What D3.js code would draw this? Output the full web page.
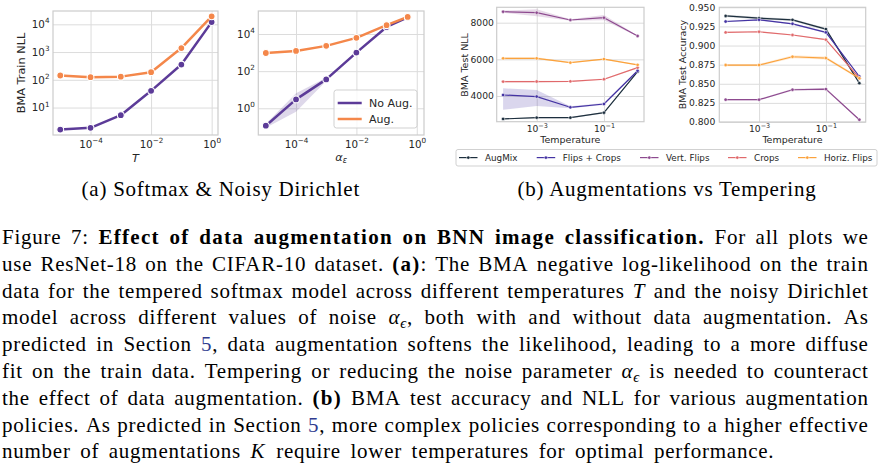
<!DOCTYPE html>
<html>
<head>
<meta charset="utf-8">
<script src="https://cdn.jsdelivr.net/npm/d3@7"></script>
<style>
  body { margin: 0; background: #fff; }
  svg { display: block; font-family: "DejaVu Sans", sans-serif; }
</style>
</head>
<body>
<svg id="fig" width="882" height="465"></svg>
<script>
// ---------- data ----------
// (a) left: tempered softmax, BMA train NLL vs T
const softmaxT = [1e-5, 1e-4, 1e-3, 1e-2, 1e-1, 1];
const softmaxNoAug = [1.6, 1.85, 5.3, 40, 355, 12000];
const softmaxAug = [143, 124, 130, 188, 1390, 19500];

// (a) right: noisy Dirichlet, BMA train NLL vs alpha_eps
const dirichletAlpha = [1e-5, 1e-4, 1e-3, 1e-2, 1e-1, 0.5];
const dirichletNoAug = [0.115, 3.0, 36, 1000, 24000, 80000];
const dirichletNoAugLo = [0.09, 0.65, 29, 900, 22000, 76000];
const dirichletNoAugHi = [0.145, 6.5, 44, 1110, 26000, 84000];
const dirichletAug = [950, 1230, 2300, 6200, 30000, 83000];

const trainLegend = ["No Aug.", "Aug."];

// (b) augmentations vs tempering
const temperature = [1e-4, 1e-3, 1e-2, 1e-1, 1];
const augNames = ["AugMix", "Flips + Crops", "Vert. Flips", "Crops", "Horiz. Flips"];

const nllAugMix     = [2750, 2820, 2820, 3090, 5330];
const nllAugMixLo   = [2720, 2780, 2790, 3050, 5290];
const nllAugMixHi   = [2780, 2860, 2850, 3130, 5370];
const nllFlipsCrops   = [4055, 3970, 3384, 3565, 5380];
const nllFlipsCropsLo = [3250, 3455, 3330, 3510, 5340];
const nllFlipsCropsHi = [4420, 4330, 3440, 3620, 5420];
const nllVert   = [8600, 8545, 8147, 8272, 7275];
const nllVertLo = [8540, 8350, 8100, 8130, 7245];
const nllVertHi = [8660, 8740, 8190, 8420, 7305];
const nllCrops   = [4785, 4790, 4800, 4915, 5550];
const nllCropsLo = [4740, 4750, 4770, 4880, 5520];
const nllCropsHi = [4830, 4830, 4830, 4950, 5580];
const nllHoriz   = [6055, 6055, 5820, 6015, 5700];
const nllHorizLo = [5990, 6000, 5790, 5985, 5670];
const nllHorizHi = [6120, 6110, 5850, 6045, 5730];

const accAugMix     = [0.9387, 0.9358, 0.9336, 0.9215, 0.8508];
const accAugMixLo   = [0.9372, 0.9343, 0.9321, 0.9200, 0.8493];
const accAugMixHi   = [0.9402, 0.9373, 0.9351, 0.9230, 0.8523];
const accFlipsCrops   = [0.9314, 0.9336, 0.9284, 0.9172, 0.8595];
const accFlipsCropsLo = [0.9304, 0.9326, 0.9274, 0.9162, 0.8585];
const accFlipsCropsHi = [0.9324, 0.9346, 0.9294, 0.9182, 0.8605];
const accVert   = [0.8292, 0.8292, 0.8422, 0.8430, 0.8030];
const accVertLo = [0.8282, 0.8282, 0.8410, 0.8416, 0.8020];
const accVertHi = [0.8302, 0.8302, 0.8434, 0.8444, 0.8040];
const accCrops   = [0.9172, 0.9180, 0.9138, 0.9077, 0.8573];
const accCropsLo = [0.9164, 0.9172, 0.9130, 0.9069, 0.8565];
const accCropsHi = [0.9180, 0.9188, 0.9146, 0.9085, 0.8581];
const accHoriz   = [0.8745, 0.8745, 0.8853, 0.8836, 0.8573];
const accHorizLo = [0.8730, 0.8730, 0.8833, 0.8816, 0.8558];
const accHorizHi = [0.8760, 0.8760, 0.8873, 0.8856, 0.8588];

const captionA = "(a) Softmax & Noisy Dirichlet";
const captionB = "(b) Augmentations vs Tempering";
// ** bold, * italic, ^ link colour, ~ subscript
const bodyLines = [
  "Figure 7: **Effect of data augmentation on BNN image classification.** For all plots we",
  "use ResNet-18 on the CIFAR-10 dataset. **(a)**: The BMA negative log-likelihood on the train",
  "data for the tempered softmax model across different temperatures *T* and the noisy Dirichlet",
  "model across different values of noise *α*~ϵ~, both with and without data augmentation. As",
  "predicted in Section ^5^, data augmentation softens the likelihood, leading to a more diffuse",
  "fit on the train data. Tempering or reducing the noise parameter *α*~ϵ~ is needed to counteract",
  "the effect of data augmentation. **(b)** BMA test accuracy and NLL for various augmentation",
  "policies. As predicted in Section ^5^, more complex policies corresponding to a higher effective",
  "number of augmentations *K* require lower temperatures for optimal performance."
];

// ---------- style ----------
const ink = "#262626";
const gridColor = "#dcdcdc";
const frameColor = "#cccccc";
const trainColors = ["#5c3b98", "#f4874a"];
const augColors = ["#1d2f3e", "#4433a3", "#8d4a8f", "#e0696b", "#fba23c"];

const svg = d3.select("#fig");

function powLabel(t, d, size) {
  const e = Math.round(Math.log10(d));
  t.text(null);
  t.append("tspan").text("10");
  t.append("tspan").attr("dy", -0.45 * size).attr("font-size", size * 0.7)
    .text(e < 0 ? "\u2212" + (-e) : String(e));
}

function drawPanel(p) {
  const g = svg.append("g");
  const x = d3.scaleLog().domain(p.xDomain).range([p.left, p.right]);
  const y = (p.yLog ? d3.scaleLog() : d3.scaleLinear()).domain(p.yDomain).range([p.bottom, p.top]);
  const h = p.bottom - p.top, w = p.right - p.left;

  const ax = g.append("g").attr("transform", `translate(0,${p.bottom})`)
    .call(d3.axisBottom(x).tickValues(p.xTicks).tickSize(-h).tickPadding(p.xPad));
  const ay = g.append("g").attr("transform", `translate(${p.left},0)`)
    .call(d3.axisLeft(y).tickValues(p.yTicks).tickSize(-w).tickPadding(p.yPad)
      .tickFormat(p.yFormat || (d => d)));
  [ax, ay].forEach(a => {
    a.select(".domain").remove();
    a.attr("font-family", "DejaVu Sans").attr("font-size", p.tickSize);
    a.selectAll(".tick line").attr("stroke", gridColor).attr("stroke-width", 1);
    a.selectAll(".tick text").attr("fill", ink);
  });
  ax.selectAll(".tick text").each(function (d) { powLabel(d3.select(this), d, p.tickSize); });
  if (p.yLog) ay.selectAll(".tick text").each(function (d) { powLabel(d3.select(this), d, p.tickSize); });

  g.append("rect").attr("x", p.left).attr("y", p.top).attr("width", w).attr("height", h)
    .attr("fill", "none").attr("stroke", frameColor).attr("stroke-width", 1.2);

  const clipId = "clip" + Math.round(p.left);
  g.append("clipPath").attr("id", clipId).append("rect")
    .attr("x", p.left).attr("y", p.top).attr("width", w).attr("height", h);
  const plot = g.append("g").attr("clip-path", `url(#${clipId})`);

  p.series.forEach(s => {
    const pts = s.xs.map((xv, i) => ({ x: xv, y: s.ys[i], lo: s.lo ? s.lo[i] : null, hi: s.hi ? s.hi[i] : null }));
    if (s.lo) {
      plot.append("path").datum(pts)
        .attr("d", d3.area().x(d => x(d.x)).y0(d => y(d.lo)).y1(d => y(d.hi)))
        .attr("fill", s.color).attr("opacity", 0.2);
    }
    plot.append("path").datum(pts)
      .attr("d", d3.line().x(d => x(d.x)).y(d => y(d.y)))
      .attr("fill", "none").attr("stroke", s.color).attr("stroke-width", p.lw)
      .attr("stroke-linejoin", "round");
    plot.selectAll(null).data(pts).join("circle")
      .attr("cx", d => x(d.x)).attr("cy", d => y(d.y)).attr("r", p.r)
      .attr("fill", s.color).attr("stroke", "#fff").attr("stroke-width", p.r * 0.3);
  });

  // labels
  const xl = g.append("text").attr("x", (p.left + p.right) / 2).attr("y", p.xLabelY)
    .attr("text-anchor", "middle").attr("fill", ink).attr("font-size", p.labelSize);
  p.xLabel(xl);
  g.append("text").attr("transform", `translate(${p.yLabelX},${p.yLabelY}) rotate(-90)`)
    .attr("text-anchor", "middle").attr("dominant-baseline", "central")
    .attr("fill", ink).attr("font-size", p.labelSize).text(p.yLabel);
  return { x, y, g };
}

const trainSeries = (xs, a, b, lo, hi) => [
  { xs, ys: a, color: trainColors[0], lo, hi },
  { xs, ys: b, color: trainColors[1] }
];

drawPanel({
  left: 53, right: 218, top: 11, bottom: 135,
  xDomain: [Math.pow(10, -5.24), Math.pow(10, 0.21)], yLog: true,
  yDomain: [Math.pow(10, 0.01), Math.pow(10, 4.48)],
  xTicks: [1e-4, 1e-2, 1], yTicks: [10, 100, 1000, 10000],
  xPad: 5.5, yPad: 3.5, tickSize: 10.3, labelSize: 11.3, lw: 2.5, r: 3.4,
  xLabelY: 161.5, xLabel: t => t.attr("font-style", "italic").text("T"),
  yLabel: "BMA Train NLL", yLabelX: 21.7, yLabelY: 73,
  series: trainSeries(softmaxT, softmaxNoAug, softmaxAug)
});

drawPanel({
  left: 258.3, right: 424, top: 11, bottom: 135,
  xDomain: [Math.pow(10, -5.25), Math.pow(10, 0.24)], yLog: true,
  yDomain: [Math.pow(10, -1.44), Math.pow(10, 5.24)],
  xTicks: [1e-4, 1e-2, 1], yTicks: [1, 100, 10000],
  xPad: 5.5, yPad: 3.5, tickSize: 10.3, labelSize: 11.3, lw: 2.5, r: 3.4,
  xLabelY: 160.5,
  xLabel: t => {
    t.append("tspan").attr("font-style", "italic").text("α");
    t.append("tspan").attr("font-style", "italic").attr("font-size", 8).attr("dy", 2.5).text("ε");
  },
  yLabel: "", yLabelX: 230, yLabelY: 73,
  series: trainSeries(dirichletAlpha, dirichletNoAug, dirichletAug, dirichletNoAugLo, dirichletNoAugHi)
});

// legend for (a)
const lgA = svg.append("g");
lgA.append("rect").attr("x", 334).attr("y", 90).attr("width", 83).attr("height", 38).attr("rx", 2.5)
  .attr("fill", "#fff").attr("fill-opacity", 0.8).attr("stroke", frameColor).attr("stroke-width", 0.9);
trainLegend.forEach((name, i) => {
  const yy = 103 + i * 16;
  lgA.append("line").attr("x1", 337.7).attr("x2", 361.7).attr("y1", yy).attr("y2", yy)
    .attr("stroke", trainColors[i]).attr("stroke-width", 2.5);
  lgA.append("text").attr("x", 369).attr("y", yy).attr("dominant-baseline", "central")
    .attr("font-size", 11).attr("fill", ink).text(name);
});

const nllSeries = [
  [nllAugMix, nllAugMixLo, nllAugMixHi],
  [nllFlipsCrops, nllFlipsCropsLo, nllFlipsCropsHi],
  [nllVert, nllVertLo, nllVertHi],
  [nllCrops, nllCropsLo, nllCropsHi],
  [nllHoriz, nllHorizLo, nllHorizHi]
].map((v, i) => ({ xs: temperature, ys: v[0], lo: v[1], hi: v[2], color: augColors[i] }));

const accSeries = [
  [accAugMix, accAugMixLo, accAugMixHi],
  [accFlipsCrops, accFlipsCropsLo, accFlipsCropsHi],
  [accVert, accVertLo, accVertHi],
  [accCrops, accCropsLo, accCropsHi],
  [accHoriz, accHorizLo, accHorizHi]
].map((v, i) => ({ xs: temperature, ys: v[0], lo: v[1], hi: v[2], color: augColors[i] }));

const tempLabel = t => t.text("Temperature");

drawPanel({
  left: 496.7, right: 644, top: 7.3, bottom: 121.7,
  xDomain: [Math.pow(10, -4.19), Math.pow(10, 0.19)], yLog: false,
  yDomain: [2598, 8840],
  xTicks: [1e-3, 1e-1], yTicks: [4000, 6000, 8000],
  xPad: 3.8, yPad: 2.8, tickSize: 9.2, labelSize: 9.5, lw: 1.2, r: 1.7,
  xLabelY: 142.6, xLabel: tempLabel,
  yLabel: "BMA Test NLL", yLabelX: 464.3, yLabelY: 65,
  series: nllSeries
});

drawPanel({
  left: 719.3, right: 865.7, top: 7.3, bottom: 122,
  xDomain: [Math.pow(10, -4.19), Math.pow(10, 0.19)], yLog: false,
  yDomain: [0.8, 0.95], yFormat: d3.format(".3f"),
  xTicks: [1e-3, 1e-1], yTicks: [0.8, 0.825, 0.85, 0.875, 0.9, 0.925, 0.95],
  xPad: 3.5, yPad: 4, tickSize: 9.2, labelSize: 9.5, lw: 1.2, r: 1.7,
  xLabelY: 142.6, xLabel: tempLabel,
  yLabel: "BMA Test Accuracy", yLabelX: 682.7, yLabelY: 64.5,
  series: accSeries
});

// shared legend for (b)
const legendX = [459, 536.7, 640, 728, 798];
const lgB = svg.append("g");
lgB.append("rect").attr("x", 456).attr("y", 149.5).attr("width", 421).attr("height", 16.5).attr("rx", 2)
  .attr("fill", "#fff").attr("stroke", frameColor).attr("stroke-width", 0.9);
augNames.forEach((name, i) => {
  const yy = 157.6, lx = legendX[i];
  lgB.append("line").attr("x1", lx).attr("x2", lx + 18.5).attr("y1", yy).attr("y2", yy)
    .attr("stroke", augColors[i]).attr("stroke-width", 1.2);
  lgB.append("circle").attr("cx", lx + 9.25).attr("cy", yy).attr("r", 1.7)
    .attr("fill", augColors[i]).attr("stroke", "#fff").attr("stroke-width", 0.5);
  lgB.append("text").attr("x", lx + 26).attr("y", yy).attr("dominant-baseline", "central")
    .attr("font-size", 8.8).attr("fill", ink).text(name);
});

// ---------- captions and body text ----------
const serif = "'Liberation Serif', 'Times New Roman', serif";
const bodySize = 21;
const spacing = 0.75;

[[captionA, 220.8], [captionB, 667]].forEach(([txt, cx]) => {
  svg.append("text").attr("x", cx).attr("y", 196).attr("text-anchor", "middle")
    .attr("font-family", serif).attr("font-size", bodySize).attr("letter-spacing", spacing)
    .attr("fill", "#000").text(txt);
});

function toWords(line) {
  const parts = line.split(/(\*\*[^*]+\*\*|\*[^*]+\*|\^[^^]+\^|~[^~]+~)/).filter(s => s.length);
  const words = [[]];
  parts.forEach(part => {
    let style = "n", t = part;
    if (part.startsWith("**")) { style = "b"; t = part.slice(2, -2); }
    else if (part.startsWith("*")) { style = "i"; t = part.slice(1, -1); }
    else if (part.startsWith("^")) { style = "l"; t = part.slice(1, -1); }
    else if (part.startsWith("~")) { style = "s"; t = part.slice(1, -1); }
    t.split(" ").forEach((piece, k) => {
      if (k > 0) words.push([]);
      if (piece) words[words.length - 1].push({ t: piece, style });
    });
  });
  return words.filter(w => w.length);
}

const body = svg.append("g").attr("font-family", serif).attr("font-size", bodySize)
  .attr("letter-spacing", spacing).attr("fill", "#000");
const textLeft = 2, textRight = 868.7, lastRight = 774.3;
bodyLines.forEach((line, li) => {
  const base = 244 + li * 26.8;
  const words = toWords(line);
  const nodes = words.map(runs => {
    const t = body.append("text").attr("x", 0).attr("y", base);
    let off = 0;
    runs.forEach(r => {
      const target = r.style === "s" ? 4 : 0;
      const sp = t.append("tspan").text(r.t);
      if (target !== off) { sp.attr("dy", target - off); off = target; }
      if (r.style === "b") sp.attr("font-weight", "bold").attr("letter-spacing", 1.3);
      if (r.style === "i") sp.attr("font-style", "italic");
      if (r.style === "l") sp.attr("fill", "#2f3b8f");
      if (r.style === "s") sp.attr("font-size", bodySize * 0.7).attr("font-style", "italic");
    });
    return t;
  });
  const widths = nodes.map(n => n.node().getBBox().width);
  const total = d3.sum(widths);
  const right = li === bodyLines.length - 1 ? lastRight : textRight;
  const gap = (right - textLeft - total) / (nodes.length - 1);
  let cx = textLeft;
  nodes.forEach((n, i) => { n.attr("x", cx); cx += widths[i] + gap; });
});
</script>
</body>
</html>
